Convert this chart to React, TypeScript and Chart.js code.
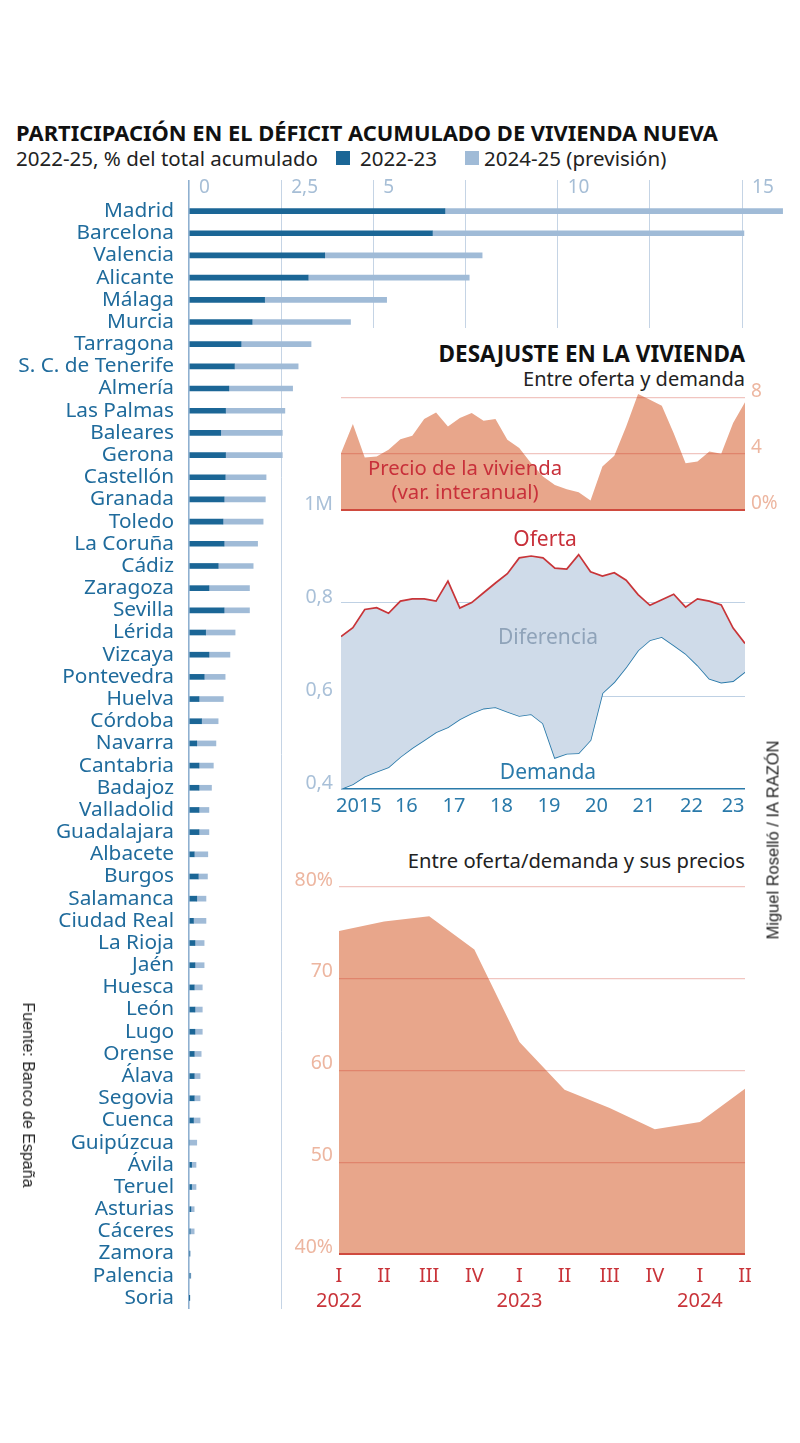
import React, { useEffect, useRef } from "react";
import { Chart, registerables } from "chart.js";

Chart.register(...registerables);

const FONT = "'Noto Sans', 'DejaVu Sans', sans-serif";

// ---------- Bar chart: participación en el déficit acumulado ----------
const provinces = [
  "Madrid", "Barcelona", "Valencia", "Alicante", "Málaga", "Murcia", "Tarragona",
  "S. C. de Tenerife", "Almería", "Las Palmas", "Baleares", "Gerona", "Castellón",
  "Granada", "Toledo", "La Coruña", "Cádiz", "Zaragoza", "Sevilla", "Lérida",
  "Vizcaya", "Pontevedra", "Huelva", "Córdoba", "Navarra", "Cantabria", "Badajoz",
  "Valladolid", "Guadalajara", "Albacete", "Burgos", "Salamanca", "Ciudad Real",
  "La Rioja", "Jaén", "Huesca", "León", "Lugo", "Orense", "Álava", "Segovia",
  "Cuenca", "Guipúzcua", "Ávila", "Teruel", "Asturias", "Cáceres", "Zamora",
  "Palencia", "Soria",
];
const share2022_23 = [
  6.94, 6.6, 3.68, 3.23, 2.05, 1.71, 1.41, 1.23, 1.08, 0.99, 0.86, 0.99, 0.98,
  0.95, 0.92, 0.95, 0.79, 0.54, 0.95, 0.45, 0.54, 0.41, 0.27, 0.34, 0.21, 0.27,
  0.27, 0.27, 0.27, 0.14, 0.25, 0.21, 0.12, 0.16, 0.16, 0.14, 0.16, 0.16, 0.14,
  0.14, 0.14, 0.12, 0.0, 0.07, 0.07, 0.05, 0.03, 0.02, 0.03, 0.01,
];
const share2024_25 = [
  9.16, 8.45, 4.27, 4.37, 3.31, 2.67, 1.9, 1.73, 1.73, 1.61, 1.67, 1.54, 1.11,
  1.12, 1.09, 0.91, 0.95, 1.1, 0.69, 0.8, 0.57, 0.57, 0.66, 0.45, 0.52, 0.39,
  0.34, 0.27, 0.27, 0.37, 0.25, 0.25, 0.34, 0.25, 0.25, 0.22, 0.2, 0.2, 0.19,
  0.16, 0.16, 0.18, 0.21, 0.12, 0.12, 0.09, 0.11, 0.01, 0.02, 0.0,
];
const barTickValues = [0, 2.5, 5, 7.5, 10, 12.5, 15];
const barTickLabels = ["0", "2,5", "5", "", "10", "", "15"];

// ---------- Desajuste: precio, oferta y demanda (trimestral 2015-2023) ----------
const precioVivienda = [
  4.06, 6.14, 3.75, 3.82, 4.3, 5.06, 5.3, 6.5, 6.97, 5.97, 6.57, 6.93, 6.38, 6.5,
  5.01, 4.42, 3.34, 2.39, 1.79, 1.48, 1.27, 0.67, 3.1, 3.87, 5.97, 8.29, 7.88,
  7.45, 5.49, 3.34, 3.46, 4.18, 4.01, 6.21, 7.69,
];
const oferta = [
  0.728, 0.747, 0.786, 0.79, 0.778, 0.804, 0.809, 0.809, 0.804, 0.847, 0.789,
  0.801, 0.822, 0.843, 0.863, 0.897, 0.901, 0.897, 0.875, 0.873, 0.904, 0.867,
  0.858, 0.865, 0.849, 0.818, 0.795, 0.807, 0.819, 0.791, 0.809, 0.804, 0.796,
  0.746, 0.713,
];
const demanda = [
  0.4, 0.41, 0.427, 0.437, 0.447, 0.469, 0.488, 0.505, 0.522, 0.533, 0.55, 0.563,
  0.573, 0.576, 0.566, 0.557, 0.561, 0.541, 0.467, 0.476, 0.477, 0.505, 0.606,
  0.63, 0.662, 0.698, 0.72, 0.727, 0.709, 0.691, 0.666, 0.637, 0.629, 0.632,
  0.652,
];
const yearTickPositions = [1.5, 5.5, 9.5, 13.5, 17.5, 21.5, 25.5, 29.5, 33.0];
const yearTickLabels = ["2015", "16", "17", "18", "19", "20", "21", "22", "23"];
const precioTickValues = [0, 4, 8];
const precioTickLabels = ["0%", "4", "8"];
const ofertaTickValues = [0.4, 0.6, 0.8, 1.0];
const ofertaTickLabels = ["0,4", "0,6", "0,8", "1M"];

// ---------- Entre oferta/demanda y sus precios ----------
const quarterLabels = [
  ["I", "2022"], ["II", ""], ["III", ""], ["IV", ""],
  ["I", "2023"], ["II", ""], ["III", ""], ["IV", ""],
  ["I", "2024"], ["II", ""],
];
const ajustePrecios = [75.2, 76.25, 76.8, 73.2, 63.1, 57.9, 55.9, 53.6, 54.4, 58.0];
const ajusteTickValues = [40, 50, 60, 70, 80];
const ajusteTickLabels = ["40%", "50", "60", "70", "80%"];

const SALMON = "#e8a68b";
const RED = "#c8303a";
const BLUE = "#2a7aaa";
const GRID_RED = "rgba(205, 45, 30, 0.28)";
const BASE_RED = "#cf4a3e";

function useChart(makeConfig: () => any) {
  const ref = useRef<HTMLCanvasElement | null>(null);
  useEffect(() => {
    if (!ref.current) return;
    const chart = new Chart(ref.current, makeConfig());
    return () => chart.destroy();
  }, []);
  return ref;
}

function setTicks(values: number[]) {
  return (s: any) => {
    s.ticks = values.map((v) => ({ value: v }));
  };
}

function BarChart() {
  const ref = useChart(() => ({
    type: "bar",
    data: {
      labels: provinces,
      datasets: [
        { label: "2022-23", data: share2022_23, backgroundColor: "#1b6696", barThickness: 5, borderWidth: 0 },
        { label: "2024-25 (previsión)", data: share2024_25, backgroundColor: "#a0bbd7", barThickness: 5, borderWidth: 0 },
      ],
    },
    options: {
      indexAxis: "y",
      animation: false,
      responsive: false,
      events: [],
      layout: { padding: { top: 0, right: 10, bottom: 28, left: 0 } },
      plugins: { legend: { display: false }, tooltip: { enabled: false } },
      scales: {
        x: {
          type: "linear",
          position: "top",
          stacked: true,
          min: 0,
          max: 16.3,
          bounds: "data",
          afterBuildTicks: setTicks(barTickValues),
          afterFit: (s: any) => { s.height = 30; },
          grid: {
            color: (c: any) => (c.tick && c.tick.value === 0 ? "#8fb0d0" : "#c5d4e5"),
            lineWidth: (c: any) => (c.tick && c.tick.value === 0 ? 1.6 : 1),
            tickLength: 20,
          },
          border: { display: false },
          ticks: {
            align: "start",
            labelOffset: 10,
            padding: -19,
            color: "#a6bed6",
            font: { size: 19, family: FONT },
            callback: (_v: any, i: number) => barTickLabels[i],
          },
        },
        y: {
          type: "category",
          stacked: true,
          afterFit: (s: any) => { s.width = 189; },
          grid: { display: false, drawTicks: false },
          border: { display: false },
          ticks: { autoSkip: false, padding: 15, color: "#1f6b9c", font: { size: 20.8, family: FONT } },
        },
      },
    },
  }));
  return (
    <canvas ref={ref} width={800} height={1167}
      style={{ position: "absolute", left: 0, top: 170, width: 800, height: 1167 }} />
  );
}

function PrecioChart() {
  const ref = useChart(() => ({
    type: "line",
    data: {
      datasets: [
        {
          label: "Precio de la vivienda",
          data: precioVivienda.map((v, i) => ({ x: i, y: v })),
          borderWidth: 0,
          pointRadius: 0,
          fill: "origin",
          backgroundColor: SALMON,
          tension: 0,
        },
      ],
    },
    options: {
      animation: false,
      responsive: false,
      events: [],
      layout: { padding: { top: 20, right: 0, bottom: 20, left: 41 } },
      plugins: { legend: { display: false }, tooltip: { enabled: false } },
      scales: {
        x: { type: "linear", min: 0, max: 34, display: false },
        y: {
          position: "right",
          min: 0,
          max: 8.5,
          afterBuildTicks: setTicks(precioTickValues),
          afterFit: (s: any) => { s.width = 55; },
          grid: {
            z: 1,
            drawTicks: false,
            color: (c: any) => (c.tick && c.tick.value === 0 ? BASE_RED : GRID_RED),
            lineWidth: (c: any) => (c.tick && c.tick.value === 0 ? 2 : 1.2),
          },
          border: { display: false },
          ticks: {
            padding: 6,
            labelOffset: -6,
            color: "#edb6a0",
            font: { size: 19, family: FONT },
            callback: (_v: any, i: number) => precioTickLabels[i],
          },
        },
      },
    },
  }));
  return (
    <canvas ref={ref} width={500} height={159}
      style={{ position: "absolute", left: 300, top: 371, width: 500, height: 159 }} />
  );
}

function OfertaChart() {
  const ref = useChart(() => ({
    type: "line",
    data: {
      datasets: [
        {
          label: "Oferta",
          data: oferta.map((v, i) => ({ x: i, y: v })),
          borderColor: "#c83539",
          borderWidth: 1.7,
          pointRadius: 0,
          fill: "+1",
          backgroundColor: "#cfdbe9",
          tension: 0,
        },
        {
          label: "Demanda",
          data: demanda.map((v, i) => ({ x: i, y: v })),
          borderColor: BLUE,
          borderWidth: 1.7,
          pointRadius: 0,
          fill: false,
          tension: 0,
        },
      ],
    },
    options: {
      animation: false,
      responsive: false,
      events: [],
      layout: { padding: { top: 20, right: 55, bottom: 0, left: 0 } },
      plugins: { legend: { display: false }, tooltip: { enabled: false } },
      scales: {
        x: {
          type: "linear",
          min: 0,
          max: 34,
          afterBuildTicks: setTicks(yearTickPositions),
          afterFit: (s: any) => { s.height = 36; },
          grid: { display: false, drawTicks: false },
          border: { display: false },
          ticks: {
            padding: 5,
            color: BLUE,
            font: { size: 20, family: FONT },
            autoSkip: false,
            maxRotation: 0,
            callback: (_v: any, i: number) => yearTickLabels[i],
          },
        },
        y: {
          min: 0.4,
          max: 1.0,
          afterBuildTicks: setTicks(ofertaTickValues),
          afterFit: (s: any) => { s.width = 41; },
          grid: {
            drawTicks: false,
            color: (c: any) => {
              const v = c.tick ? c.tick.value : -1;
              return v === 0.4 ? BLUE : v === 1.0 ? "rgba(0,0,0,0)" : "#bfd1e4";
            },
            lineWidth: (c: any) => (c.tick && c.tick.value === 0.4 ? 1.6 : 1),
          },
          border: { display: false },
          ticks: {
            padding: 8,
            labelOffset: -6,
            color: "#a9c0d8",
            font: { size: 19.5, family: FONT },
            callback: (_v: any, i: number) => ofertaTickLabels[i],
          },
        },
      },
    },
  }));
  return (
    <canvas ref={ref} width={500} height={335}
      style={{ position: "absolute", left: 300, top: 490, width: 500, height: 335 }} />
  );
}

function AjusteChart() {
  const ref = useChart(() => ({
    type: "line",
    data: {
      labels: quarterLabels,
      datasets: [
        {
          label: "Entre oferta/demanda y sus precios",
          data: ajustePrecios,
          borderWidth: 0,
          pointRadius: 0,
          fill: "start",
          backgroundColor: SALMON,
          tension: 0,
        },
      ],
    },
    options: {
      animation: false,
      responsive: false,
      events: [],
      layout: { padding: { top: 20, right: 55, bottom: 0, left: 0 } },
      plugins: { legend: { display: false }, tooltip: { enabled: false } },
      scales: {
        x: {
          type: "category",
          offset: false,
          afterFit: (s: any) => { s.height = 63; },
          grid: { display: false, drawTicks: false },
          border: { display: false },
          ticks: {
            padding: 10,
            color: "#c9343a",
            font: { size: 20, family: FONT, lineHeight: 1.25 },
            autoSkip: false,
            maxRotation: 0,
          },
        },
        y: {
          min: 40,
          max: 80,
          afterBuildTicks: setTicks(ajusteTickValues),
          afterFit: (s: any) => { s.width = 44; },
          grid: {
            z: 1,
            drawTicks: false,
            color: (c: any) => (c.tick && c.tick.value === 40 ? BASE_RED : GRID_RED),
            lineWidth: (c: any) => (c.tick && c.tick.value === 40 ? 2 : 1.2),
          },
          border: { display: false },
          ticks: {
            padding: 6,
            labelOffset: -7,
            color: "#edb6a0",
            font: { size: 19.5, family: FONT },
            callback: (_v: any, i: number) => ajusteTickLabels[i],
          },
        },
      },
    },
  }));
  return (
    <canvas ref={ref} width={505} height={450}
      style={{ position: "absolute", left: 295, top: 867, width: 505, height: 450 }} />
  );
}

type TProps = {
  x: number; y: number; align?: "left" | "right" | "center"; size?: number;
  color?: string; weight?: number; children: React.ReactNode; lh?: number;
};
function T({ x, y, align = "left", size = 19, color = "#222", weight = 400, children, lh }: TProps) {
  const lineH = lh || Math.round(size * 1.3);
  const base: React.CSSProperties = {
    position: "absolute",
    top: y - lineH / 2,
    lineHeight: lineH + "px",
    fontSize: size,
    fontFamily: FONT,
    fontWeight: weight,
    color,
    whiteSpace: "nowrap",
  };
  if (align === "left") Object.assign(base, { left: x });
  if (align === "right") Object.assign(base, { right: 800 - x, textAlign: "right" });
  if (align === "center") Object.assign(base, { left: x - 200, width: 400, textAlign: "center" });
  return <div style={base}>{children}</div>;
}

export default function App() {
  return (
    <div style={{ position: "absolute", left: 0, top: 0, width: 800, height: 1443, background: "#fff", overflow: "hidden" }}>
      <T x={16} y={133} size={21.9} weight={700} color="#111">
        PARTICIPACIÓN EN EL DÉFICIT ACUMULADO DE VIVIENDA NUEVA
      </T>
      <T x={16} y={158} size={20.5} color="#222">2022-25, % del total acumulado</T>
      <div style={{ position: "absolute", left: 336, top: 151, width: 14, height: 14, background: "#1b6696" }} />
      <T x={360} y={158} size={20.5} color="#222">2022-23</T>
      <div style={{ position: "absolute", left: 465, top: 151, width: 14, height: 14, background: "#a0bbd7" }} />
      <T x={484} y={158} size={20.5} color="#222">2024-25 (previsión)</T>

      <BarChart />

      {/* inset panel background */}
      <div style={{ position: "absolute", left: 312, top: 328, width: 488, height: 1000, background: "#fff" }} />

      <T x={745} y={353} size={22.5} weight={700} align="right" color="#111">DESAJUSTE EN LA VIVIENDA</T>
      <T x={745} y={379} size={20} align="right" color="#222">Entre oferta y demanda</T>

      <OfertaChart />
      <PrecioChart />

      <T x={465} y={467} size={20.3} align="center" color={RED}>Precio de la vivienda</T>
      <T x={465} y={491} size={20.3} align="center" color={RED}>(var. interanual)</T>
      <T x={545} y={538} size={21} align="center" color={RED}>Oferta</T>
      <T x={548} y={636} size={21} align="center" color="#8fa3b9">Diferencia</T>
      <T x={548} y={771} size={21} align="center" color={BLUE}>Demanda</T>

      <T x={745} y={860} size={20.2} align="right" color="#222">Entre oferta/demanda y sus precios</T>
      <AjusteChart />

      <div style={{
        position: "absolute", left: 28, top: 1095, transform: "translate(-50%, -50%) rotate(90deg)",
        fontFamily: "'Liberation Sans', Arial, sans-serif", fontSize: 16, color: "#222", whiteSpace: "nowrap",
      }}>Fuente: Banco de España</div>
      <div style={{
        position: "absolute", left: 773, top: 840, transform: "translate(-50%, -50%) rotate(-90deg)",
        fontFamily: "'Liberation Sans', Arial, sans-serif", fontSize: 16.5, color: "#222", whiteSpace: "nowrap",
      }}>Miguel Roselló / IA RAZÓN</div>
    </div>
  );
}
